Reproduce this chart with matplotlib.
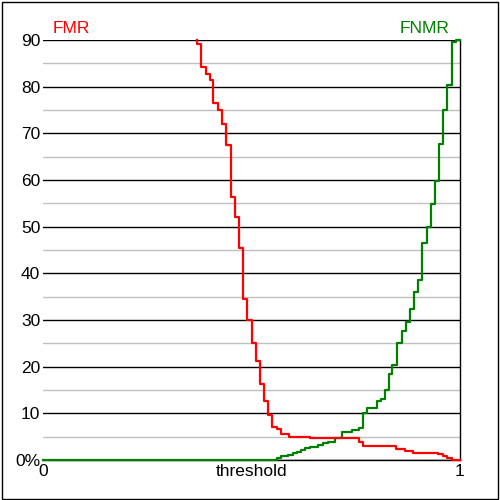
import matplotlib
matplotlib.use("Agg")
import matplotlib.pyplot as plt
from matplotlib.patches import Rectangle

plt.rcParams['font.family'] = ['Liberation Sans', 'DejaVu Sans']

# FMR step curve (threshold, value in %) - value holds from this threshold to the next
fmr_x = [0.3686, 0.3686, 0.3782, 0.3902, 0.3998, 0.4084, 0.4189, 0.4285, 0.4381,
         0.4501, 0.4604, 0.4693, 0.4789, 0.4885, 0.5005, 0.5101, 0.5204, 0.5293,
         0.5388, 0.5484, 0.5604, 0.5707, 0.5906, 0.6403, 0.7585, 0.7681, 0.8465,
         0.8681, 0.8880, 0.9480, 0.9600, 0.9695, 0.9801, 1.0]
fmr_y = [90.0, 89.2, 84.3, 82.7, 81.4, 76.6, 75.1, 71.9, 67.5,
         56.4, 52.1, 45.4, 34.5, 29.9, 25.1, 21.3, 16.3, 12.6,
         9.7, 7.0, 6.6, 5.5, 5.0, 4.8, 3.9, 3.1, 2.4,
         2.0, 1.6, 1.2, 0.9, 0.5, 0.0, 0.0]

# FNMR step curve
fnmr_x = [0.0, 0.5604, 0.5707, 0.5882, 0.6002, 0.6084, 0.6187, 0.6283, 0.6403,
          0.6602, 0.6708, 0.6842, 0.7002, 0.7163, 0.7403, 0.7585, 0.7681, 0.7777,
          0.8002, 0.8098, 0.8201, 0.8297, 0.8376, 0.8482, 0.8602, 0.8698, 0.8801,
          0.8897, 0.9000, 0.9082, 0.9201, 0.9297, 0.9400, 0.9496, 0.9585, 0.9681,
          0.9801, 0.9904, 1.0]
fnmr_y = [0.0, 0.5, 0.86, 1.07, 1.43, 1.8, 2.1, 2.5, 2.85,
          3.2, 3.57, 3.9, 4.8, 5.9, 6.4, 6.9, 10.0, 11.1,
          12.7, 13.1, 15.0, 18.4, 20.4, 25.1, 27.6, 29.6, 32.3,
          35.9, 38.6, 46.6, 49.9, 54.9, 59.8, 67.7, 75.0, 80.4,
          89.6, 90.0, 90.0]

major_ticks = [0, 10, 20, 30, 40, 50, 60, 70, 80, 90]
major_labels = ['0%', '10', '20', '30', '40', '50', '60', '70', '80', '90']
minor_ticks = [5, 15, 25, 35, 45, 55, 65, 75, 85]
x_ticks = [0, 0.5, 1]
x_labels = ['0', 'threshold', '1']

FS = 12.5

fig = plt.figure(figsize=(5, 5), dpi=100)
ax = fig.add_axes([0.086, 0.08, 0.834, 0.84])

ax.set_xlim(0, 1)
ax.set_ylim(0, 90)

for v in minor_ticks:
    ax.axhline(v, color='#c0c0c0', lw=1.0, zorder=1)
for v in major_ticks:
    ax.axhline(v, color='black', lw=1.0, zorder=1)

ax.step(fnmr_x, fnmr_y, where='post', color='#008000', lw=1.6, zorder=3, clip_on=False)
ax.step(fmr_x, fmr_y, where='post', color='#ff0000', lw=1.6, zorder=4, clip_on=False)

ax.set_yticks(major_ticks)
ax.set_yticklabels(major_labels)
ax.set_xticks(x_ticks)
ax.set_xticklabels(x_labels)
ax.tick_params(axis='both', length=0, labelsize=FS, colors='black')
ax.tick_params(axis='y', pad=2)
ax.tick_params(axis='x', pad=3)

ax.spines['left'].set_visible(False)
ax.spines['top'].set_visible(False)
ax.spines['right'].set_linewidth(1.0)
ax.spines['bottom'].set_linewidth(1.0)

ax.text(0.022, 1.017, 'FMR', transform=ax.transAxes, color='#ff0000',
        fontsize=FS, ha='left', va='baseline')
ax.text(0.976, 1.017, 'FNMR', transform=ax.transAxes, color='#008000',
        fontsize=FS, ha='right', va='baseline')

fig.patches.append(Rectangle((0.003, 0.003), 0.993, 0.993, transform=fig.transFigure,
                             fill=False, edgecolor='black', lw=1.0))

fig.savefig('out.png', dpi=100)
